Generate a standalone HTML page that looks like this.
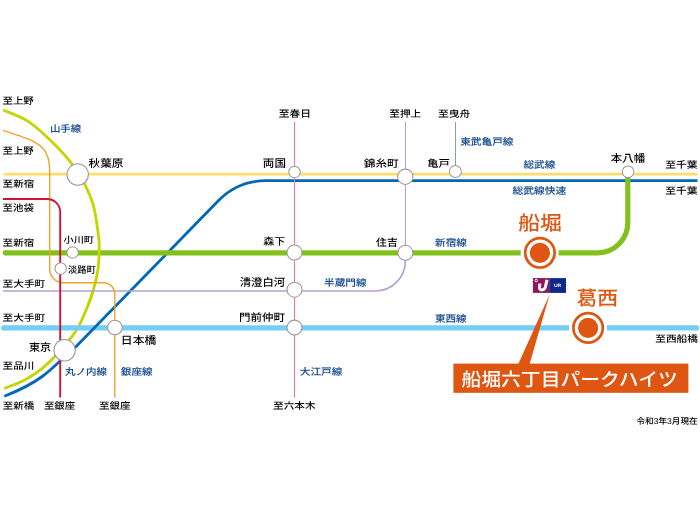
<!DOCTYPE html>
<html lang="ja">
<head>
<meta charset="utf-8">
<title>船堀六丁目パークハイツ 路線図</title>
<style>
html,body{margin:0;padding:0;background:#fff;}
body{width:700px;height:525px;overflow:hidden;}
svg{display:block;font-family:"Liberation Sans", "Noto Sans CJK JP", sans-serif;will-change:transform;}
text{-webkit-font-smoothing:antialiased;text-rendering:geometricPrecision;}
</style>
</head>
<body>
<svg width="700" height="525" viewBox="0 0 700 525">
<rect width="700" height="525" fill="#fff"/>
<path d="M92.9 291.4 C91.2 297.3 90.4 299.6 87.9 305.7 C85.4 311.8 81.0 322.3 77.9 327.9 C74.8 333.5 72.1 336.1 69.5 339.5 C66.9 342.9 66.9 343.8 62.5 348.5 C58.1 353.2 49.0 362.7 42.9 367.8 C36.8 372.9 32.1 375.9 25.7 379.4 C19.3 382.8 7.9 387.0 4.3 388.5" fill="none" stroke="#C3D600" stroke-width="2.85" stroke-linecap="butt" stroke-linejoin="round"/>
<path d="M3.8 327.9 H569.2" fill="none" stroke="#74CDF2" stroke-width="5.3" stroke-linecap="butt" stroke-linejoin="round"/>
<circle cx="3.8" cy="327.9" r="2.65" fill="#74CDF2"/>
<path d="M607 327.9 H696.5" fill="none" stroke="#74CDF2" stroke-width="5.3" stroke-linecap="butt" stroke-linejoin="round"/>
<circle cx="696.5" cy="327.9" r="2.65" fill="#74CDF2"/>
<path d="M4.3 396.2 C18 391 32 384 42.9 376 C49 371.5 54 366.7 59.3 361.8 L66 355.5 L75.4 347.3 L218.3 200.8 A66.6 66.6 0 0 1 266.0 180.7 H697.5" fill="none" stroke="#0068B7" stroke-width="2.8" stroke-linecap="butt" stroke-linejoin="round"/>
<path d="M3.5 174.15 H697.5" fill="none" stroke="#FFDC6E" stroke-width="2.8" stroke-linecap="butt" stroke-linejoin="round"/>
<path d="M5.3 252.8 H520.7" fill="none" stroke="#84C01C" stroke-width="5.2" stroke-linecap="butt" stroke-linejoin="round"/>
<circle cx="5.3" cy="252.8" r="2.6" fill="#84C01C"/>
<path d="M558.6 252.8 H597.8 A30 30 0 0 0 627.8 222.8 V176" fill="none" stroke="#84C01C" stroke-width="5.2" stroke-linecap="butt" stroke-linejoin="round"/>
<path d="M3.1 110.0 C7.3 112.0 19.6 115.5 28.6 121.7 C37.6 127.9 48.9 138.7 57.1 147.1 C65.3 155.5 71.8 162.7 77.7 172.0 C83.6 181.3 89.1 192.0 92.6 202.9 C96.1 213.8 97.5 228.9 98.6 237.2 C99.7 245.4 99.2 246.9 99.1 252.4 C99.0 257.9 98.9 263.5 97.9 270.0 C96.9 276.5 94.6 285.4 92.9 291.4 C91.2 297.3 90.4 299.6 87.9 305.7" fill="none" stroke="#C3D600" stroke-width="2.85" stroke-linecap="butt" stroke-linejoin="round"/>
<path d="M3 291 H375.4 A30 30 0 0 0 405.4 261 V250" fill="none" stroke="#B6A0D2" stroke-width="1.7" stroke-linecap="butt" stroke-linejoin="round"/>
<path d="M405.45 250 V122" fill="none" stroke="#AC9CD8" stroke-width="1.0" stroke-linecap="butt" stroke-linejoin="round"/>
<path d="M294.5 122 V397.5" fill="none" stroke="#E87AA8" stroke-width="1.15" stroke-linecap="butt" stroke-linejoin="round"/>
<path d="M455.5 122 V170" fill="none" stroke="#7FA898" stroke-width="1.0" stroke-linecap="butt" stroke-linejoin="round"/>
<path d="M2.9 130.3 C4.6 130.9 9.6 132.6 12.9 133.7 C16.2 134.8 19.3 135.7 22.9 137.1 C26.5 138.5 30.9 139.9 34.3 141.9 C37.7 143.9 41.1 146.2 43.4 148.8 C45.7 151.4 47.0 154.9 48.0 157.7 C49.0 160.5 49.1 163.0 49.4 165.7 C49.7 168.4 49.7 172.6 49.7 174.0 V269.3 A13.5 13.5 0 0 0 63.2 282.8 H103.5 A11.3 11.3 0 0 1 114.8 294.1 V397.5" fill="none" stroke="#F0A22A" stroke-width="1.4" stroke-linecap="butt" stroke-linejoin="round"/>
<path d="M3 199 H47.2 A13 13 0 0 1 60.2 212 V397.5" fill="none" stroke="#CE1632" stroke-width="1.9" stroke-linecap="butt" stroke-linejoin="round"/>
<circle cx="77.7" cy="174.5" r="10.7" fill="#fff" stroke="#9a9a9a" stroke-width="1.05"/>
<circle cx="64.6" cy="350.3" r="10.7" fill="#fff" stroke="#9a9a9a" stroke-width="1.05"/>
<circle cx="72.6" cy="252.5" r="5.7" fill="#fff" stroke="#9a9a9a" stroke-width="1.05"/>
<circle cx="60.7" cy="268.5" r="5.7" fill="#fff" stroke="#9a9a9a" stroke-width="1.05"/>
<circle cx="114.9" cy="327.5" r="7.3" fill="#fff" stroke="#9a9a9a" stroke-width="1.05"/>
<circle cx="294.5" cy="172" r="5.7" fill="#fff" stroke="#9a9a9a" stroke-width="1.05"/>
<circle cx="294.5" cy="252.5" r="7.5" fill="#fff" stroke="#9a9a9a" stroke-width="1.05"/>
<circle cx="294.5" cy="289.7" r="7.5" fill="#fff" stroke="#9a9a9a" stroke-width="1.05"/>
<circle cx="294.5" cy="327.6" r="7.5" fill="#fff" stroke="#9a9a9a" stroke-width="1.05"/>
<circle cx="405.3" cy="176.8" r="7.7" fill="#fff" stroke="#9a9a9a" stroke-width="1.05"/>
<circle cx="405.4" cy="252.8" r="7.5" fill="#fff" stroke="#9a9a9a" stroke-width="1.05"/>
<circle cx="455.4" cy="171.5" r="6.0" fill="#fff" stroke="#9a9a9a" stroke-width="1.05"/>
<circle cx="628.1" cy="171.8" r="5.8" fill="#fff" stroke="#9a9a9a" stroke-width="1.05"/>
<circle cx="539.9" cy="252.8" r="14.7" fill="#fff" stroke="#DE5612" stroke-width="2.7"/>
<circle cx="539.9" cy="252.8" r="10.1" fill="#DE5612"/>
<circle cx="588.1" cy="327.9" r="14.7" fill="#fff" stroke="#DE5612" stroke-width="2.7"/>
<circle cx="588.1" cy="327.9" r="10.1" fill="#DE5612"/>
<polygon points="549.7,294.2 518.3,364 529.6,364" fill="#DE5612"/>
<rect x="453.4" y="363.6" width="235" height="29.2" fill="#DE5612"/>
<rect x="532.9" y="278.1" width="16.6" height="14.8" fill="#92155C"/>
<rect x="549.3" y="278.1" width="16.7" height="14.8" fill="#102887"/>
<path d="M539.8 283.5 L539.5 287.4 Q539.4 289.9 541.9 289.9 Q544.6 289.9 545.3 287.2 L547 279.8" fill="none" stroke="#fff" stroke-width="3" stroke-linecap="butt"/>
<circle cx="536.2" cy="280.5" r="1.25" fill="none" stroke="#fff" stroke-width="1"/>
<text x="2.63" y="104.11" font-size="9.35" font-weight="500" fill="#000" textLength="31.13" lengthAdjust="spacingAndGlyphs">至上野</text>
<text x="2.63" y="154.21" font-size="9.35" font-weight="500" fill="#000" textLength="31.13" lengthAdjust="spacingAndGlyphs">至上野</text>
<text x="2.62" y="186.73" font-size="9.16" font-weight="500" fill="#000" textLength="31.56" lengthAdjust="spacingAndGlyphs">至新宿</text>
<text x="2.63" y="211.12" font-size="9.26" font-weight="500" fill="#000" textLength="31.23" lengthAdjust="spacingAndGlyphs">至池袋</text>
<text x="2.62" y="246.32" font-size="9.26" font-weight="500" fill="#000" textLength="31.56" lengthAdjust="spacingAndGlyphs">至新宿</text>
<text x="2.62" y="286.72" font-size="9.26" font-weight="500" fill="#000" textLength="42.65" lengthAdjust="spacingAndGlyphs">至大手町</text>
<text x="2.62" y="320.92" font-size="9.26" font-weight="500" fill="#000" textLength="42.65" lengthAdjust="spacingAndGlyphs">至大手町</text>
<text x="2.62" y="369.22" font-size="9.34" font-weight="500" fill="#000" textLength="31.69" lengthAdjust="spacingAndGlyphs">至品川</text>
<text x="2.83" y="408.72" font-size="9.26" font-weight="500" fill="#000" textLength="31.43" lengthAdjust="spacingAndGlyphs">至新橋</text>
<text x="43.93" y="408.72" font-size="9.26" font-weight="500" fill="#000" textLength="31.13" lengthAdjust="spacingAndGlyphs">至銀座</text>
<text x="99.13" y="408.72" font-size="9.26" font-weight="500" fill="#000" textLength="31.34" lengthAdjust="spacingAndGlyphs">至銀座</text>
<text x="278.71" y="116.80" font-size="9.47" font-weight="500" fill="#000" textLength="32.25" lengthAdjust="spacingAndGlyphs">至春日</text>
<text x="389.32" y="116.80" font-size="9.47" font-weight="500" fill="#000" textLength="31.86" lengthAdjust="spacingAndGlyphs">至押上</text>
<text x="437.91" y="116.72" font-size="9.27" font-weight="500" fill="#000" textLength="32.27" lengthAdjust="spacingAndGlyphs">至曳舟</text>
<text x="273.02" y="408.81" font-size="9.36" font-weight="500" fill="#000" textLength="42.54" lengthAdjust="spacingAndGlyphs">至六本木</text>
<text x="665.21" y="167.82" font-size="9.26" font-weight="500" fill="#000" textLength="32.15" lengthAdjust="spacingAndGlyphs">至千葉</text>
<text x="665.21" y="194.12" font-size="9.26" font-weight="500" fill="#000" textLength="32.15" lengthAdjust="spacingAndGlyphs">至千葉</text>
<text x="655.22" y="342.12" font-size="9.26" font-weight="500" fill="#000" textLength="42.75" lengthAdjust="spacingAndGlyphs">至西船橋</text>
<text x="88.52" y="167.19" font-size="10.64" font-weight="500" fill="#000" textLength="34.88" lengthAdjust="spacingAndGlyphs">秋葉原</text>
<text x="63.45" y="242.55" font-size="8.92" font-weight="500" fill="#000" textLength="30.61" lengthAdjust="spacingAndGlyphs">小川町</text>
<text x="67.97" y="272.62" font-size="9.26" font-weight="500" fill="#000" textLength="27.76" lengthAdjust="spacingAndGlyphs">淡路町</text>
<text x="28.92" y="350.60" font-size="10.53" font-weight="500" fill="#000" textLength="22.28" lengthAdjust="spacingAndGlyphs">東京</text>
<text x="120.87" y="343.58" font-size="10.74" font-weight="500" fill="#000" textLength="35.32" lengthAdjust="spacingAndGlyphs">日本橋</text>
<text x="262.87" y="167.46" font-size="10.88" font-weight="500" fill="#000" textLength="23.10" lengthAdjust="spacingAndGlyphs">両国</text>
<text x="263.33" y="245.23" font-size="10.21" font-weight="500" fill="#000" textLength="21.97" lengthAdjust="spacingAndGlyphs">森下</text>
<text x="239.71" y="285.69" font-size="10.63" font-weight="500" fill="#000" textLength="45.38" lengthAdjust="spacingAndGlyphs">清澄白河</text>
<text x="239.13" y="321.01" font-size="10.42" font-weight="500" fill="#000" textLength="45.96" lengthAdjust="spacingAndGlyphs">門前仲町</text>
<text x="363.72" y="167.43" font-size="10.21" font-weight="500" fill="#000" textLength="34.98" lengthAdjust="spacingAndGlyphs">錦糸町</text>
<text x="427.20" y="167.34" font-size="10.10" font-weight="500" fill="#000" textLength="22.53" lengthAdjust="spacingAndGlyphs">亀戸</text>
<text x="376.14" y="245.54" font-size="10.10" font-weight="500" fill="#000" textLength="21.55" lengthAdjust="spacingAndGlyphs">住吉</text>
<text x="610.72" y="162.29" font-size="10.63" font-weight="500" fill="#000" textLength="34.46" lengthAdjust="spacingAndGlyphs">本八幡</text>
<text x="49.91" y="132.00" font-size="9.47" font-weight="500" fill="#1A4F90" textLength="31.35" lengthAdjust="spacingAndGlyphs" stroke="#1A4F90" stroke-width="0.1">山手線</text>
<text x="65.14" y="375.31" font-size="9.38" font-weight="500" fill="#1A4F90" textLength="41.91" lengthAdjust="spacingAndGlyphs" stroke="#1A4F90" stroke-width="0.1">丸ノ内線</text>
<text x="120.84" y="374.61" font-size="9.38" font-weight="500" fill="#1A4F90" textLength="31.71" lengthAdjust="spacingAndGlyphs" stroke="#1A4F90" stroke-width="0.1">銀座線</text>
<text x="299.82" y="374.61" font-size="9.38" font-weight="500" fill="#1A4F90" textLength="42.63" lengthAdjust="spacingAndGlyphs" stroke="#1A4F90" stroke-width="0.1">大江戸線</text>
<text x="324.02" y="285.81" font-size="9.38" font-weight="500" fill="#1A4F90" textLength="42.54" lengthAdjust="spacingAndGlyphs" stroke="#1A4F90" stroke-width="0.1">半蔵門線</text>
<text x="435.04" y="246.31" font-size="9.38" font-weight="500" fill="#1A4F90" textLength="31.82" lengthAdjust="spacingAndGlyphs" stroke="#1A4F90" stroke-width="0.1">新宿線</text>
<text x="434.93" y="321.60" font-size="9.47" font-weight="500" fill="#1A4F90" textLength="31.62" lengthAdjust="spacingAndGlyphs" stroke="#1A4F90" stroke-width="0.1">東西線</text>
<text x="460.23" y="144.71" font-size="9.38" font-weight="500" fill="#1A4F90" textLength="53.23" lengthAdjust="spacingAndGlyphs" stroke="#1A4F90" stroke-width="0.1">東武亀戸線</text>
<text x="523.44" y="168.40" font-size="9.47" font-weight="500" fill="#1A4F90" textLength="31.92" lengthAdjust="spacingAndGlyphs" stroke="#1A4F90" stroke-width="0.1">総武線</text>
<text x="512.53" y="193.71" font-size="9.38" font-weight="500" fill="#1A4F90" textLength="53.84" lengthAdjust="spacingAndGlyphs" stroke="#1A4F90" stroke-width="0.1">総武線快速</text>
<text x="518.21" y="229.88" font-size="19.68" font-weight="500" fill="#DE5612" textLength="43.75" lengthAdjust="spacingAndGlyphs">船堀</text>
<text x="576.43" y="305.00" font-size="19.47" font-weight="500" fill="#DE5612" textLength="41.76" lengthAdjust="spacingAndGlyphs">葛西</text>
<text x="461.46" y="385.51" font-size="18.42" font-weight="500" fill="#fff" textLength="216.37" lengthAdjust="spacingAndGlyphs">船堀六丁目パークハイツ</text>
<text x="636.48" y="424.31" font-size="8.44" font-weight="500" fill="#000" textLength="61.10" lengthAdjust="spacingAndGlyphs">令和3年3月現在</text>
<text x="553.95" y="287.10" font-size="4.71" font-weight="700" fill="#fff" textLength="7.26" lengthAdjust="spacingAndGlyphs">UR</text>
</svg>
</body>
</html>
